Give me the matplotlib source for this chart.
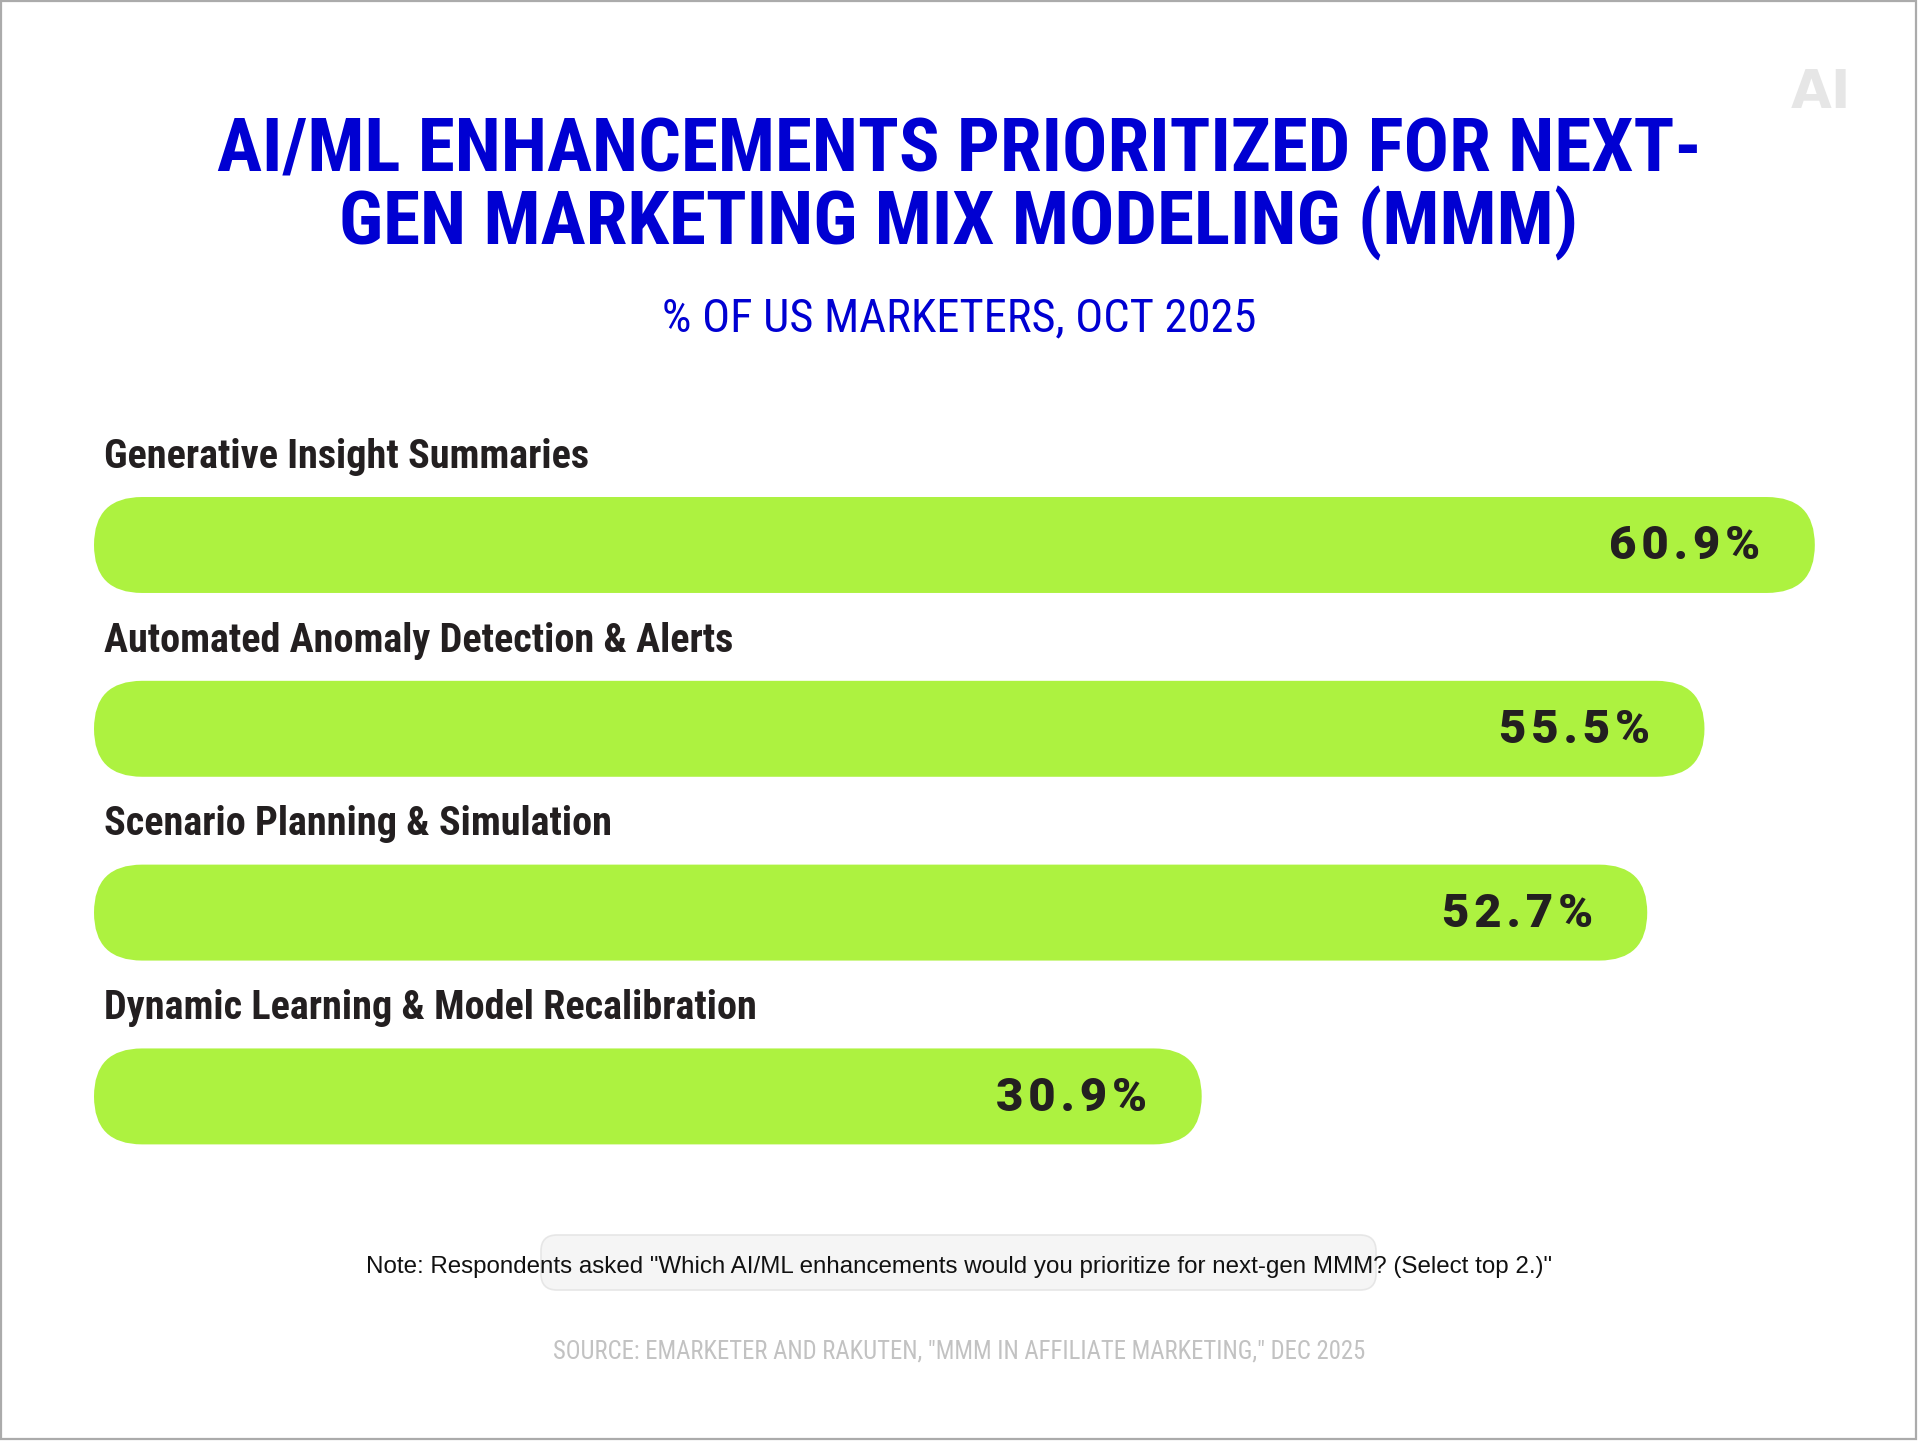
import matplotlib
matplotlib.use("Agg")
import matplotlib.pyplot as plt
from matplotlib import font_manager
from matplotlib.patches import FancyBboxPatch, Rectangle

categories = [
    "Generative Insight Summaries",
    "Automated Anomaly Detection & Alerts",
    "Scenario Planning & Simulation",
    "Dynamic Learning & Model Recalibration",
]
values = [60.9, 55.5, 52.7, 30.9]
value_labels = ["60.9%", "55.5%", "52.7%", "30.9%"]

title_lines = ["AI/ML ENHANCEMENTS PRIORITIZED FOR NEXT-",
               "GEN MARKETING MIX MODELING (MMM)"]
subtitle = "% OF US MARKETERS, OCT 2025"
note = ('Note: Respondents asked "Which AI/ML enhancements would you '
        'prioritize for next-gen MMM? (Select top 2.)"')
source = 'SOURCE: EMARKETER AND RAKUTEN, "MMM IN AFFILIATE MARKETING," DEC 2025'

BLUE = "#0000d2"
LIME = "#adf240"
INK = "#231f20"

installed = {f.name for f in font_manager.fontManager.ttflist}


def pick(*names):
    for n in names:
        if n in installed:
            return n
    return "DejaVu Sans"


NARROW = pick("Roboto Condensed", "Liberation Sans Narrow", "Liberation Sans")
SANS = pick("Liberation Sans", "Roboto", "DejaVu Sans")
VALUE_FONT = [pick("Roboto", "Liberation Sans"), "DejaVu Sans"]


def tracked(s):
    # loose letter spacing, like the value labels in the original
    return "\u200a".join(s)


W, H = 1918, 1441
fig = plt.figure(figsize=(W / 100, H / 100), dpi=100)
fig.patch.set_facecolor("white")

# decoration layer in pixel coordinates
deco = fig.add_axes([0, 0, 1, 1], zorder=0)
deco.set_xlim(0, W)
deco.set_ylim(H, 0)
deco.axis("off")

deco.add_patch(Rectangle((1, 1), W - 3, H - 3, fill=False, ec="#ababab", lw=1.6))

deco.text(1851, 93, "AI", ha="right", va="center", fontsize=38, fontweight="bold",
          family="DejaVu Sans", color="#e6e6e6")

deco.text(W / 2, 152, title_lines[0], ha="center", va="center", fontsize=54.3,
          fontweight="bold", family=NARROW, color=BLUE)
deco.text(W / 2, 223, title_lines[1], ha="center", va="center", fontsize=54.3,
          fontweight="bold", family=NARROW, color=BLUE)
deco.text(W / 2, 318, subtitle, ha="center", va="center", fontsize=33.5,
          family=NARROW, color=BLUE)

deco.add_patch(FancyBboxPatch((541, 1235), 835, 55,
                              boxstyle="round,pad=0,rounding_size=16",
                              fc="#f5f5f5", ec="#e6e6e6", lw=1.2))
deco.text(W / 2, 1267, note, ha="center", va="center", fontsize=17.4,
          family=SANS, color="#111111")
deco.text(W / 2, 1351, source, ha="center", va="center", fontsize=17.8,
          family=NARROW, color="#c2c2c2")

# bar chart
ax = fig.add_axes([94 / W, 1 - 1206.7 / H, (1823 - 94) / W, 772 / H], zorder=1)
ax.set_xlim(-23.3, 61.3)
ax.set_ylim(3.6, -0.6)
ax.axis("off")
ax.patch.set_alpha(0)

base = ax.get_xlim()[0]
bar_h = 0.522
fig.canvas.draw()
p0 = ax.transData.transform((0, 0))
p1 = ax.transData.transform((1, 1))
px_x = abs(p1[0] - p0[0])
px_y = abs(p1[1] - p0[1])
aspect = px_x / px_y
radius = bar_h * px_y / 2 / px_x

for i, (cat, val, lab) in enumerate(zip(categories, values, value_labels)):
    ax.add_patch(FancyBboxPatch((base, i - bar_h / 2), val - base, bar_h,
                                boxstyle=f"round,pad=0,rounding_size={radius}",
                                mutation_aspect=aspect, fc=LIME, ec="none"))
    ax.annotate(cat, xy=(base, i - 0.495), xytext=(7, -2), textcoords="offset points",
                ha="left", va="center", fontsize=29, fontweight="bold",
                family=NARROW, color=INK)
    ax.annotate(tracked(lab), xy=(val, i), xytext=(-39, -1), textcoords="offset points",
                ha="right", va="center", fontsize=34, fontweight="black",
                family=VALUE_FONT, color=INK)

fig.savefig("out.png", dpi=100, facecolor="white")
